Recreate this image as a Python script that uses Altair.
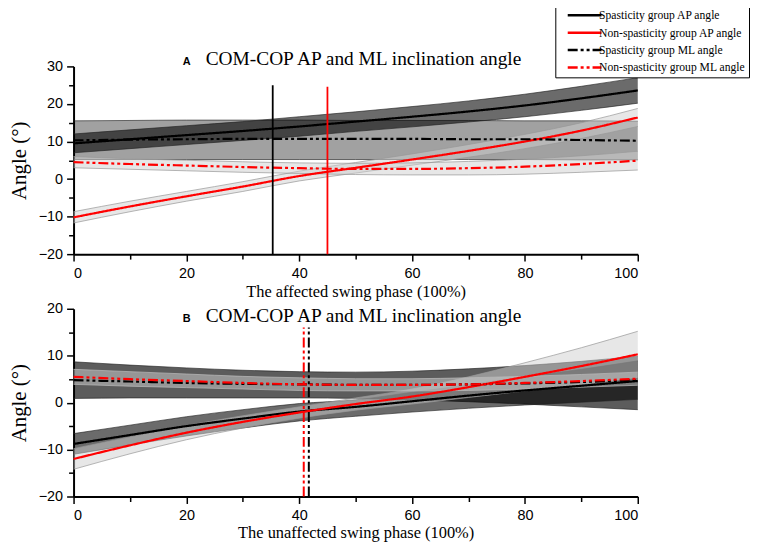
import altair as alt
import pandas as pd

X = [0, 10, 20, 30, 40, 50, 60, 70, 80, 90, 100]
SERIES = ["Spasticity group AP angle", "Non-spasticity group AP angle",
          "Spasticity group ML angle", "Non-spasticity group ML angle"]

# ---------- Panel A (affected swing phase) ----------
a_sp_ap = [9.5, 10.6, 11.7, 12.8, 14.0, 15.3, 16.6, 18.0, 19.6, 21.5, 23.6]
a_sp_ap_lo = [7.0, 8.1, 9.2, 10.3, 11.4, 12.7, 13.9, 15.2, 16.6, 18.3, 20.2]
a_sp_ap_hi = [12.0, 13.1, 14.2, 15.3, 16.6, 17.9, 19.3, 20.8, 22.6, 24.7, 27.0]

a_ns_ap = [-10.2, -7.3, -4.6, -2.0, 0.8, 3.0, 5.2, 7.5, 10.0, 12.9, 16.4]
a_ns_ap_lo = [-11.7, -8.7, -5.9, -3.3, -0.5, 1.6, 3.7, 5.8, 8.1, 10.8, 14.0]
a_ns_ap_hi = [-8.7, -5.9, -3.3, -0.7, 2.1, 4.4, 6.7, 9.2, 11.9, 15.0, 18.8]

a_sp_ml = [10.3, 10.5, 10.6, 10.7, 10.7, 10.7, 10.7, 10.6, 10.6, 10.4, 10.2]
a_sp_ml_lo = [5.2, 5.2, 5.2, 5.2, 5.2, 5.2, 5.2, 5.2, 5.2, 5.1, 5.1]
a_sp_ml_hi = [15.5, 15.6, 15.7, 15.7, 15.7, 15.6, 15.6, 15.6, 15.5, 15.5, 15.4]

a_ns_ml = [4.5, 4.0, 3.6, 3.2, 2.9, 2.7, 2.7, 2.9, 3.3, 4.0, 4.9]
a_ns_ml_lo = [3.0, 2.6, 2.2, 1.8, 1.5, 1.2, 1.1, 1.1, 1.3, 1.8, 2.4]
a_ns_ml_hi = [6.0, 5.4, 5.0, 4.6, 4.3, 4.2, 4.3, 4.7, 5.3, 6.2, 7.4]

a_vline_x = [35.3, 45.0]
a_vline_top = [25.0, 24.6]
a_vline_color = ["black", "red"]

# ---------- Panel B (unaffected swing phase) ----------
b_sp_ap = [-8.8, -6.9, -5.0, -3.4, -1.9, -0.9, 0.3, 1.5, 2.6, 3.6, 4.6]
b_sp_ap_lo = [-11.0, -9.0, -7.1, -5.4, -3.9, -2.9, -2.0, -1.2, -0.5, 0.1, 0.7]
b_sp_ap_hi = [-6.6, -4.8, -3.0, -1.5, -0.2, 0.6, 2.2, 3.8, 5.5, 7.1, 8.9]

b_ns_ap = [-12.0, -9.1, -6.4, -4.1, -2.1, -0.3, 1.3, 3.3, 5.5, 7.8, 10.3]
b_ns_ap_lo = [-14.2, -10.9, -7.9, -5.4, -3.3, -1.6, -0.3, 1.1, 2.5, 3.9, 5.4]
b_ns_ap_hi = [-9.8, -7.3, -4.9, -2.8, -0.9, 1.0, 2.9, 5.5, 8.5, 11.7, 15.2]

b_sp_ml = [4.8, 4.5, 4.2, 4.0, 3.9, 3.8, 3.8, 3.9, 4.1, 4.4, 4.8]
b_sp_ml_lo = [0.9, 1.0, 1.0, 1.0, 1.0, 0.9, 0.6, 0.2, -0.3, -0.9, -1.5]
b_sp_ml_hi = [8.7, 8.0, 7.4, 6.9, 6.6, 6.5, 6.7, 7.2, 7.9, 8.8, 9.9]

b_ns_ml = [5.5, 5.0, 4.6, 4.2, 3.9, 3.8, 3.8, 3.9, 4.2, 4.6, 5.1]
b_ns_ml_lo = [3.9, 3.5, 3.2, 2.9, 2.6, 2.5, 2.5, 2.6, 2.9, 3.3, 3.7]
b_ns_ml_hi = [7.1, 6.6, 6.1, 5.6, 5.3, 5.1, 5.1, 5.3, 5.6, 6.0, 6.5]

b_vline_x = [40.8, 41.7]
b_vline_top = [16.0, 16.0]
b_vline_color = ["red", "black"]

TITLE_TEXT = "COM-COP AP and ML inclination angle"
X_TICKS = list(range(0, 101, 10))

SERIF = "Liberation Serif"
SANS = "Liberation Sans"
DASH = [10, 3, 3, 3, 3, 3]
PANEL_W = 568
PANEL_H = 189


def panel_df(means, los, his):
    rows = []
    for s, m, l, h in zip(SERIES, means, los, his):
        for xi, mi, li, hi in zip(X, m, l, h):
            rows.append({"x": xi, "series": s, "mean": mi, "lo": li, "hi": hi})
    return pd.DataFrame(rows)


def x_enc(field, title, tpad, lpad):
    return alt.X(
        f"{field}:Q",
        scale=alt.Scale(domain=[0, 100], nice=False, zero=False),
        axis=alt.Axis(
            values=X_TICKS,
            labelExpr="datum.value % 20 === 0 ? datum.label : ''",
            tickSize={"condition": {"test": "datum.value % 20 === 0", "value": 7}, "value": 5},
            title=title, titleFontSize=16.5, titlePadding=tpad, labelPadding=lpad,
        ),
    )


def y_enc(field, lo, hi):
    vals = list(range(lo, hi + 1, 5))
    return alt.Y(
        f"{field}:Q",
        scale=alt.Scale(domain=[lo, hi], nice=False, zero=False),
        axis=alt.Axis(
            values=vals,
            labelExpr="datum.value % 10 === 0 ? datum.label : ''",
            tickSize={"condition": {"test": "datum.value % 10 === 0", "value": 7}, "value": 5},
            title="Angle (°)", titleFontSize=21, titlePadding=9, labelPadding=4,
        ),
    )


def panel(df, ylo, yhi, xtitle, tpad, lpad, letter, band_styles, vx, vtop, vcol, vdash, show_legend):
    base = alt.Chart(df)
    X_ = x_enc("x", xtitle, tpad, lpad)
    layers = []
    order = [SERIES[2], SERIES[0], SERIES[1], SERIES[3]]
    for s in order:
        fill, op, edge, edge_op = band_styles[s]
        sub = base.transform_filter(alt.datum.series == s)
        layers.append(sub.mark_area(color=fill, opacity=op, interpolate="monotone").encode(
            x=X_, y=y_enc("lo", ylo, yhi), y2="hi:Q"))
        for f in ["lo", "hi"]:
            layers.append(sub.mark_line(color=edge, strokeWidth=0.8, opacity=edge_op,
                                        interpolate="monotone").encode(
                x=X_, y=y_enc(f, ylo, yhi)))
    if show_legend:
        leg = alt.Legend(title=None, orient="none", legendX=485, legendY=-61, offset=0,
                         symbolType="M0.6,0H7.4", symbolSize=100, symbolStrokeWidth=2.5,
                         labelFont=SERIF, labelFontSize=11.7, labelColor="black",
                         labelOffset=28, strokeColor="black", fillColor="white",
                         padding=3, rowPadding=3.5, labelLimit=300)
    else:
        leg = None
    color = alt.Color("series:N", scale=alt.Scale(domain=SERIES, range=["black", "red", "black", "red"]),
                      legend=leg)
    dash = alt.StrokeDash("series:N", scale=alt.Scale(domain=SERIES, range=[[1, 0], [1, 0], DASH, DASH]),
                          legend=leg)
    layers.append(base.mark_line(strokeWidth=2.2, interpolate="monotone").encode(
        x=X_, y=y_enc("mean", ylo, yhi), color=color, strokeDash=dash,
        order=alt.Order("x:Q")))
    vdf = pd.DataFrame({"x": vx, "y": [ylo] * len(vx), "y2": vtop, "c": vcol})
    vl = alt.Chart(vdf).mark_rule(strokeWidth=2 if vdash else 1.8,
                                  strokeDash=DASH if vdash else [1, 0]).encode(
        x=X_, y=y_enc("y", ylo, yhi), y2="y2:Q", color=alt.Color("c:N", scale=None))
    layers.append(vl)
    tdf = pd.DataFrame({"letter": [letter], "title": [TITLE_TEXT]})
    ty = -1 if letter == "A" else 13
    layers.append(alt.Chart(tdf).mark_text(align="left", baseline="alphabetic", font=SANS,
                                           fontWeight="bold", fontSize=11, color="black").encode(
        x=alt.value(110), y=alt.value(ty), text="letter:N"))
    layers.append(alt.Chart(tdf).mark_text(align="left", baseline="alphabetic", font=SERIF,
                                           fontSize=19.5, color="black").encode(
        x=alt.value(133), y=alt.value(ty), text="title:N"))
    return alt.layer(*layers).properties(width=PANEL_W, height=PANEL_H)


a_df = panel_df([a_sp_ap, a_ns_ap, a_sp_ml, a_ns_ml],
                [a_sp_ap_lo, a_ns_ap_lo, a_sp_ml_lo, a_ns_ml_lo],
                [a_sp_ap_hi, a_ns_ap_hi, a_sp_ml_hi, a_ns_ml_hi])
b_df = panel_df([b_sp_ap, b_ns_ap, b_sp_ml, b_ns_ml],
                [b_sp_ap_lo, b_ns_ap_lo, b_sp_ml_lo, b_ns_ml_lo],
                [b_sp_ap_hi, b_ns_ap_hi, b_sp_ml_hi, b_ns_ml_hi])

a_styles = {
    SERIES[0]: ("black", 0.58, "#222222", 0.8),
    SERIES[2]: ("black", 0.37, "#222222", 0.8),
    SERIES[1]: ("#d0d0d0", 0.5, "#999999", 0.9),
    SERIES[3]: ("#d0d0d0", 0.5, "#999999", 0.9),
}
b_styles = {
    SERIES[0]: ("black", 0.58, "#222222", 0.8),
    SERIES[2]: ("black", 0.64, "#222222", 0.8),
    SERIES[1]: ("#d0d0d0", 0.5, "#999999", 0.9),
    SERIES[3]: ("#d0d0d0", 0.5, "#bbbbbb", 0.9),
}

top = panel(a_df, -20, 30, "The affected swing phase (100%)", 3, 6, "A", a_styles,
            a_vline_x, a_vline_top, a_vline_color, False, True)
bottom = panel(b_df, -20, 20, "The unaffected swing phase (100%)", 3, 5, "B", b_styles,
               b_vline_x, b_vline_top, b_vline_color, True, False)

chart = alt.vconcat(top, bottom, spacing=1).resolve_scale(
    color="independent", strokeDash="independent"
).resolve_legend(color="independent", strokeDash="independent").properties(
    padding={"left": 0, "top": -5, "right": 0, "bottom": 0}
).configure_view(stroke=None).configure_axis(
    grid=False, domainColor="black", domainWidth=2, tickColor="black", tickWidth=1.5,
    labelFont=SANS, labelFontSize=14.5, labelColor="black",
    titleFont=SERIF, titleFontWeight="normal", titleColor="black",
)

chart.save("out.html", embed_options={"renderer": "svg", "actions": False})
